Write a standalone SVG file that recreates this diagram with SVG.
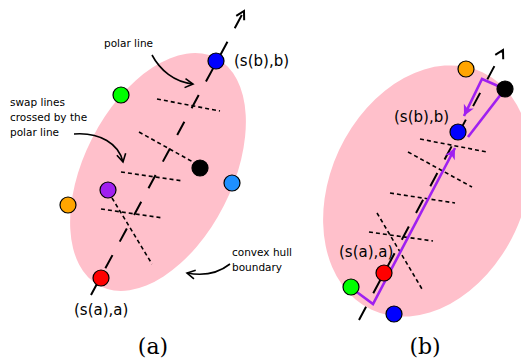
<svg xmlns="http://www.w3.org/2000/svg" width="521" height="360" viewBox="0 0 521 360">
<style>
.hull{fill:#ffc0cb;stroke:none}
.pt{stroke:#000;stroke-width:1.2}
.polar{fill:none;stroke:#000;stroke-width:2;stroke-dasharray:15 15.3}
.swap{fill:none;stroke:#000;stroke-width:1.6;stroke-dasharray:4 3}
.ann{fill:none;stroke:#000;stroke-width:1.6}
.walk{fill:none;stroke:#a020f0;stroke-width:2.6;stroke-linejoin:miter}
.lbl{font-family:"DejaVu Sans",sans-serif;font-size:15px;fill:#000}
.small{font-family:"DejaVu Sans",sans-serif;font-size:10.5px;fill:#000}
.cap{font-family:"DejaVu Serif","Liberation Serif",serif;font-size:22px;fill:#000}
</style>
<defs>
<marker id="arr" viewBox="-12 -7 14 14" refX="0" refY="0" markerWidth="14" markerHeight="14" orient="auto" markerUnits="userSpaceOnUse">
<path d="M-8,-4.5 L0,0 L-8,4.5" fill="none" stroke="#000" stroke-width="2"/>
</marker>
<marker id="arrs" viewBox="-12 -7 14 14" refX="0" refY="0" markerWidth="14" markerHeight="14" orient="auto" markerUnits="userSpaceOnUse">
<path d="M-8,-4.5 L0,0 L-8,4.5" fill="none" stroke="#000" stroke-width="1.6"/>
</marker>
<marker id="parr" viewBox="-13 -7 14 14" refX="0" refY="0" markerWidth="14" markerHeight="14" orient="auto" markerUnits="userSpaceOnUse">
<path d="M0,0 L-11,-5.5 L-8,0 L-11,5.5 Z" fill="#a020f0"/>
</marker>
</defs>

<g id="hull-a"><ellipse class="hull" cx="158" cy="172" rx="74" ry="128" transform="rotate(27 158 172)"/></g>
<g id="hull-b"><ellipse class="hull" cx="427" cy="191" rx="97" ry="131" transform="rotate(25 427 191)"/></g>

<g id="connectors">
<path class="polar" d="M91,295 L244,11" marker-end="url(#arr)"/>
<path class="polar" d="M359,320 L503,50" marker-end="url(#arr)"/>
<path class="swap" d="M157,99 L220,111"/>
<path class="swap" d="M139,132 L193,162"/>
<path class="swap" d="M121,172 L183,181"/>
<path class="swap" d="M101,209 L163,218"/>
<path class="swap" d="M112,198 L152,264"/>
<path class="swap" d="M420,139 L487,152"/>
<path class="swap" d="M408,152 L472,187"/>
<path class="swap" d="M390,193 L455,203"/>
<path class="swap" d="M369,232 L433,241"/>
<path class="swap" d="M377,213 L422,289"/>
<path class="ann" d="M152,55 C160,70 174,82 193,84" marker-end="url(#arrs)"/>
<path class="ann" d="M74,134 C100,132 119,144 123,162" marker-end="url(#arrs)"/>
<path class="ann" d="M230,264 Q212,278 187,273" marker-end="url(#arrs)"/>
<path class="walk" d="M350,287 L373,304 L455,148" marker-end="url(#parr)"/>
<path class="walk" d="M468,137 L505,89 L482,79 L464,116" marker-end="url(#parr)"/>
</g>

<g id="a-blue"><circle class="pt" cx="216" cy="61" r="8" fill="#0000ff"/></g>
<g id="a-green"><circle class="pt" cx="121" cy="95" r="8" fill="#00ff00"/></g>
<g id="a-black"><circle class="pt" cx="200" cy="168" r="8" fill="#000000"/></g>
<g id="a-dodger"><circle class="pt" cx="232" cy="183" r="8" fill="#1e90ff"/></g>
<g id="a-purple"><circle class="pt" cx="108" cy="190" r="8" fill="#a020f0"/></g>
<g id="a-orange"><circle class="pt" cx="68" cy="205" r="8" fill="#ffa500"/></g>
<g id="a-red"><circle class="pt" cx="101" cy="278" r="8" fill="#ff0000"/></g>

<g id="b-orange"><circle class="pt" cx="466" cy="69" r="8" fill="#ffa500"/></g>
<g id="b-black"><circle class="pt" cx="505" cy="89" r="8" fill="#000000"/></g>
<g id="b-blue"><circle class="pt" cx="458" cy="132" r="8" fill="#0000ff"/></g>
<g id="b-red"><circle class="pt" cx="384" cy="273" r="8" fill="#ff0000"/></g>
<g id="b-green"><circle class="pt" cx="351" cy="287" r="8" fill="#00ff00"/></g>
<g id="b-blue2"><circle class="pt" cx="394" cy="314" r="8" fill="#0000ff"/></g>

<g id="labels">
<text class="small" x="104" y="47">polar line</text>
<text class="small" x="10" y="106">swap lines</text>
<text class="small" x="10" y="121">crossed by the</text>
<text class="small" x="10" y="136">polar line</text>
<text class="small" x="232" y="256">convex hull</text>
<text class="small" x="232" y="271">boundary</text>
<text class="lbl" x="234" y="66">(s(b),b)</text>
<text class="lbl" x="74" y="315">(s(a),a)</text>
<text class="lbl" x="394" y="122">(s(b),b)</text>
<text class="lbl" x="339" y="257">(s(a),a)</text>
<text class="cap" x="153" y="354" text-anchor="middle">(a)</text>
<text class="cap" x="425" y="354" text-anchor="middle">(b)</text>
</g>
</svg>
